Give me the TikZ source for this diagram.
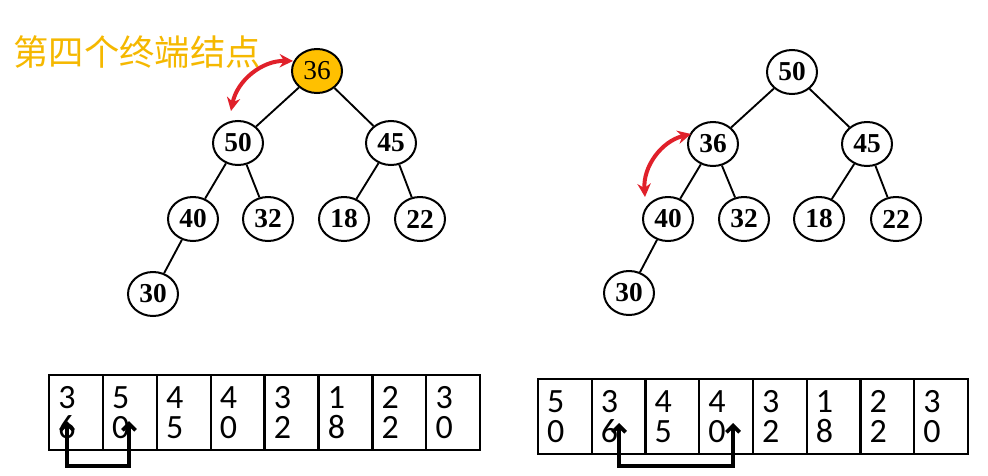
\documentclass[tikz,border=0pt]{standalone}
\usepackage{fontspec}
\newfontfamily\cjk{Noto Sans CJK SC}
\newfontfamily\tnr{Liberation Serif}
\newfontfamily\arrfont{Carlito}
\usetikzlibrary{shapes.geometric,arrows.meta,calc}
\definecolor{gold}{HTML}{FFC000}
\definecolor{goldtext}{HTML}{F5B800}
\definecolor{redarr}{HTML}{E0202A}
\begin{document}
\begin{tikzpicture}[x=0.75pt,y=-0.75pt,
  tnode/.style={ellipse,draw=black,line width=1.5pt,minimum width=37.5pt,minimum height=33pt,inner sep=0pt,font=\tnr\bfseries\fontsize{20.5}{22}\selectfont},
  edge/.style={line width=1.4pt},
  cell/.style={draw=black,line width=1.6pt,minimum height=56.25pt,inner xsep=7pt,text width=26.5pt,align=left,font=\arrfont\fontsize{25.5}{22.5}\selectfont},
  swaparr/.style={line width=2.8pt,{Straight Barb[length=5pt,width=10pt]}-{Straight Barb[length=5pt,width=10pt]}},
  redswap/.style={line width=3pt,redarr,{Stealth[length=10pt,width=10pt]}-{Stealth[length=10pt,width=10pt]}}
]
\useasboundingbox (0,0) rectangle (988,475);

% label
\node[font=\cjk\fontsize{26.5}{30}\selectfont,text=goldtext,inner sep=0pt] (lbl) at (137,52) {第四个终端结点};

% left tree
\node[tnode,fill=gold,font=\tnr\fontsize{20.5}{22}\selectfont] (A1) at (317,71) {36};
\node[tnode] (A2) at (238,143) {50};
\node[tnode] (A3) at (391,143) {45};
\node[tnode] (A4) at (193,219) {40};
\node[tnode] (A5) at (268,219) {32};
\node[tnode] (A6) at (344,219) {18};
\node[tnode] (A7) at (420,219) {22};
\node[tnode] (A8) at (153,294) {30};
\draw[edge] (A1) -- (A2);
\draw[edge] (A1) -- (A3);
\draw[edge] (A2) -- (A4);
\draw[edge] (A2) -- (A5);
\draw[edge] (A3) -- (A6);
\draw[edge] (A3) -- (A7);
\draw[edge] (A4) -- (A8);
\coordinate (ra1) at (231,111);
\coordinate (ra2) at (293,61);
\draw[redswap] (ra1) to[bend left=40] (ra2);

% right tree
\node[tnode] (B1) at (792,72) {50};
\node[tnode] (B2) at (713,144) {36};
\node[tnode] (B3) at (867,144) {45};
\node[tnode] (B4) at (668,219) {40};
\node[tnode] (B5) at (744,219) {32};
\node[tnode] (B6) at (819,219) {18};
\node[tnode] (B7) at (896,219) {22};
\node[tnode] (B8) at (629,293) {30};
\draw[edge] (B1) -- (B2);
\draw[edge] (B1) -- (B3);
\draw[edge] (B2) -- (B4);
\draw[edge] (B2) -- (B5);
\draw[edge] (B3) -- (B6);
\draw[edge] (B3) -- (B7);
\draw[edge] (B4) -- (B8);
\coordinate (rb1) at (645,197);
\coordinate (rb2) at (691,134);
\draw[redswap] (rb1) to[bend left=40] (rb2);

% left array
\foreach \i/\a/\b in {0/3/6,1/5/0,2/4/5,3/4/0,4/3/2,5/1/8,6/2/2,7/3/0}{
  \node[cell] (L\i) at ({49+53.9*(\i+0.5)},412.5) {\a\\\b};
}
\coordinate (la) at (67,421);
\coordinate (lb) at (129,421);
\draw[swaparr] (la) -- ++(0,45) -| (lb);

% right array
\foreach \i/\a/\b in {0/5/0,1/3/6,2/4/5,3/4/0,4/3/2,5/1/8,6/2/2,7/3/0}{
  \node[cell] (R\i) at ({538+53.75*(\i+0.5)},416.5) {\a\\\b};
}
\coordinate (rca) at (619,423);
\coordinate (rcb) at (733,423);
\draw[swaparr] (rca) -- ++(0,43) -| (rcb);
\end{tikzpicture}
\end{document}
